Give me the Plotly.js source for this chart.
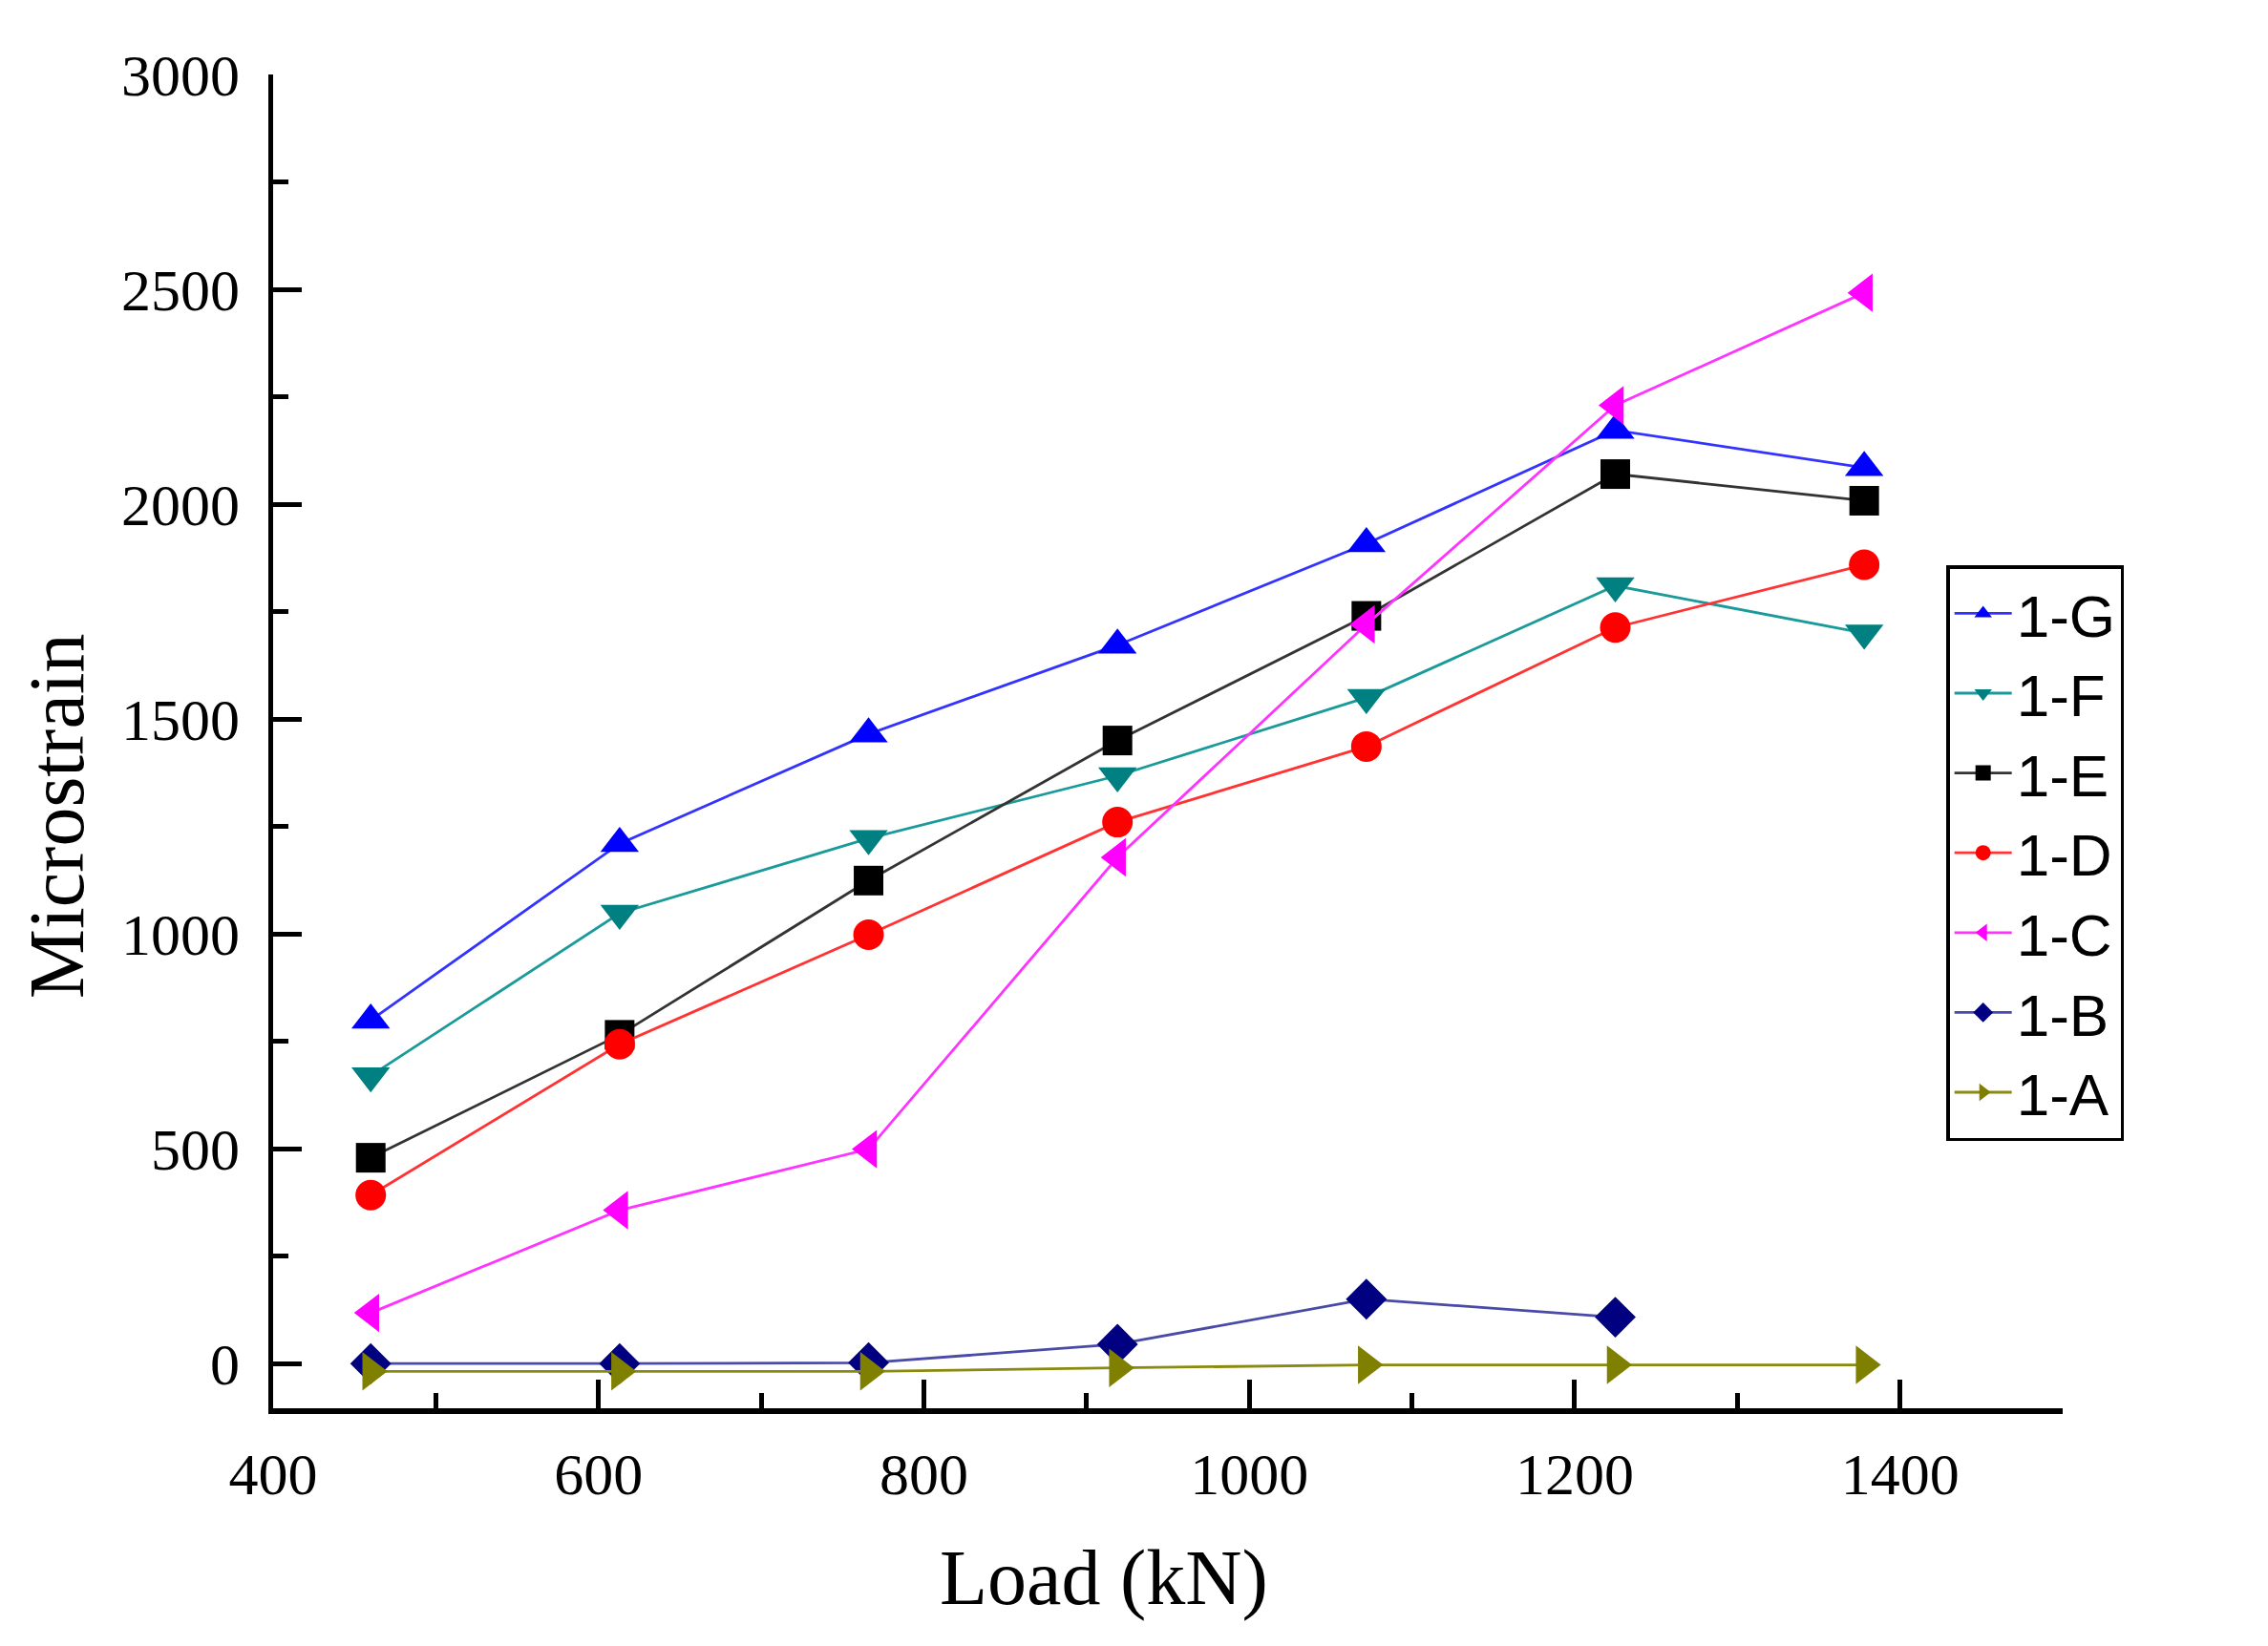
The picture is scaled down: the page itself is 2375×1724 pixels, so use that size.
<!DOCTYPE html>
<html>
<head>
<meta charset="utf-8">
<script src="https://cdn.plot.ly/plotly-3.0.1.min.js"></script>
<style>
  html, body { margin: 0; padding: 0; background: #fff; }
  #plot { width: 2375px; height: 1724px; }
</style>
</head>
<body>
<div id="plot"></div>
<script>
// Load steps (kN)
let load = [460, 613, 766, 919, 1072, 1225, 1378];

// Microstrain readings per gauge
let g1G = [799, 1210, 1465, 1672, 1908, 2172, 2085];
let g1F = [670, 1048, 1222, 1368, 1550, 1810, 1700];
let g1E = [479, 765, 1124, 1450, 1740, 2070, 2008];
let g1D = [392, 743, 998, 1260, 1436, 1713, 1859];
let g1C = [118, 357, 499, 1178, 1720, 2230, 2492];
let g1B = [0, 0, 2, 45, 150, 108, null];
let g1A = [-18, -18, -18, -10, -3, -3, -3];

let names = ["1-G", "1-F", "1-E", "1-D", "1-C", "1-B", "1-A"];
let series = [g1G, g1F, g1E, g1D, g1C, g1B, g1A];
let colors = ["#0000ff", "#008080", "#000000", "#ff0000", "#ff00ff", "#000080", "#808000"];
let lineColors = ["#3333ff", "#1a9a9a", "#333333", "#ff3333", "#ff33ff", "#4a4aa8", "#8a8a10"];
let symbols = ["triangle-up", "triangle-down", "square", "circle", "triangle-left", "diamond", "triangle-right"];
let sizes = [35, 35, 31, 32, 35, 33, 35];

let data = [];
for (let i = 0; i < names.length; i++) {
  data.push({
    x: load,
    y: series[i],
    name: names[i],
    type: "scatter",
    mode: "lines+markers",
    line: { color: lineColors[i], width: 2.8 },
    marker: { symbol: symbols[i], color: colors[i], size: sizes[i], line: { width: 0 } },
    connectgaps: false
  });
}

let serif = "Liberation Serif, Times New Roman, serif";

let layout = {
  width: 2375,
  height: 1724,
  paper_bgcolor: "#ffffff",
  plot_bgcolor: "#ffffff",
  margin: { l: 286, r: 215, t: 78, b: 249 },
  showlegend: true,
  legend: {
    x: 0.935,
    y: 0.632,
    xanchor: "left",
    yanchor: "top",
    bgcolor: "#ffffff",
    bordercolor: "#000000",
    borderwidth: 3.5,
    font: { family: "Liberation Sans, Arial, sans-serif", size: 62, color: "#000000" },
    itemwidth: 60
  },
  xaxis: {
    range: [400, 1500],
    tick0: 400,
    dtick: 200,
    ticks: "inside",
    ticklen: 30,
    tickwidth: 5,
    tickcolor: "#000000",
    minor: { dtick: 100, ticks: "inside", ticklen: 16, tickwidth: 5, tickcolor: "#000000" },
    showline: true,
    linewidth: 5.5,
    linecolor: "#000000",
    showgrid: false,
    zeroline: false,
    ticklabelstandoff: 10,
    tickfont: { family: serif, size: 62, color: "#000000" }
  },
  yaxis: {
    range: [-104, 3000],
    tick0: 0,
    dtick: 500,
    ticks: "inside",
    ticklen: 30,
    tickwidth: 5,
    tickcolor: "#000000",
    minor: { dtick: 250, ticks: "inside", ticklen: 16, tickwidth: 5, tickcolor: "#000000" },
    showline: true,
    linewidth: 5.5,
    linecolor: "#000000",
    showgrid: false,
    zeroline: false,
    ticklabelstandoff: 17,
    tickfont: { family: serif, size: 62, color: "#000000" }
  },
  annotations: [
    {
      text: "Microstrain",
      xref: "paper", yref: "paper",
      x: (60 - 286) / 1874, y: (1475 - 855) / 1397,
      xanchor: "center", yanchor: "middle",
      textangle: -90,
      showarrow: false,
      font: { family: serif, size: 82, color: "#000000" }
    },
    {
      text: "Load (kN)",
      xref: "paper", yref: "paper",
      x: (1156 - 286) / 1874, y: (1475 - 1652) / 1397,
      xanchor: "center", yanchor: "middle",
      showarrow: false,
      font: { family: serif, size: 82, color: "#000000" }
    }
  ]
};

Plotly.newPlot("plot", data, layout, { displayModeBar: false, staticPlot: true });
</script>
</body>
</html>
